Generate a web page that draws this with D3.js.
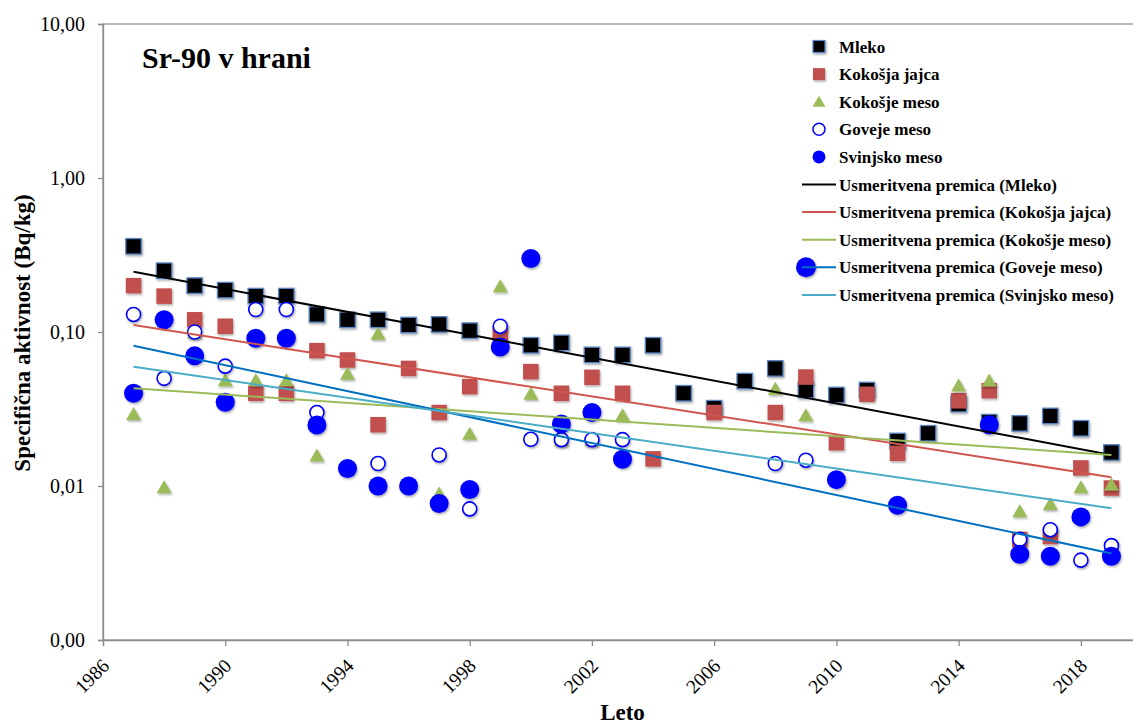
<!DOCTYPE html>
<html>
<head>
<meta charset="utf-8">
<script src="https://cdn.jsdelivr.net/npm/d3@7"></script>
<style>
  html, body { margin: 0; padding: 0; background: #fff; }
  svg { display: block; font-family: "Liberation Serif", "Times New Roman", serif; }
</style>
</head>
<body>
<svg id="chart" width="1133" height="727"></svg>
<script>
// ---------------- DATA ----------------
const seriesNames = ["Mleko", "Kokošja jajca", "Kokošje meso", "Goveje meso", "Svinjsko meso"];

const mlekoYears = [1987,1988,1989,1990,1991,1992,1993,1994,1995,1996,1997,1998,2000,2001,2002,2003,2004,2005,2006,2007,2008,2009,2010,2011,2012,2013,2014,2015,2016,2017,2018,2019];
const mlekoValues = [0.36,0.25,0.20,0.187,0.171,0.171,0.13,0.12,0.12,0.111,0.112,0.102,0.082,0.085,0.071,0.071,0.082,0.040,0.032,0.048,0.058,0.042,0.039,0.042,0.0196,0.022,0.034,0.026,0.0255,0.0285,0.0237,0.0165];

const jajcaYears = [1987,1988,1989,1990,1991,1992,1993,1994,1995,1996,1997,1998,1999,2000,2001,2002,2003,2004,2006,2008,2009,2010,2011,2012,2014,2015,2016,2017,2018,2019];
const jajcaValues = [0.20,0.171,0.12,0.109,0.040,0.040,0.0757,0.0658,0.025,0.058,0.030,0.0442,0.098,0.0553,0.040,0.0508,0.040,0.015,0.030,0.030,0.051,0.0191,0.0394,0.0163,0.0358,0.0416,0.0045,0.0047,0.0131,0.0097];

const kokosjeYears = [1987,1988,1989,1990,1991,1992,1993,1994,1995,1997,1998,1999,2000,2001,2002,2003,2008,2009,2014,2015,2016,2017,2018,2019];
const kokosjeValues = [0.0296,0.0099,0.10,0.049,0.049,0.049,0.0159,0.054,0.098,0.009,0.022,0.20,0.040,0.020,0.020,0.029,0.0431,0.029,0.0453,0.0488,0.0069,0.0077,0.0099,0.0103];

const govejeYears = [1987,1988,1989,1990,1991,1992,1993,1995,1997,1998,1999,2000,2001,2002,2003,2008,2009,2016,2017,2018,2019];
const govejeValues = [0.130,0.050,0.100,0.060,0.140,0.140,0.030,0.014,0.0159,0.0071,0.109,0.0201,0.020,0.020,0.020,0.014,0.0147,0.0045,0.0052,0.0033,0.0041];

const svinjskoYears = [1987,1988,1989,1990,1991,1992,1993,1994,1995,1996,1997,1998,1999,2000,2001,2002,2003,2010,2012,2015,2016,2017,2018,2019];
const svinjskoValues = [0.040,0.120,0.070,0.035,0.091,0.091,0.0249,0.013,0.010,0.010,0.0077,0.0095,0.080,0.30,0.0253,0.030,0.0149,0.011,0.0075,0.025,0.0036,0.0035,0.0063,0.0035];

// Trend lines (exponential fits) at first and last year
const trendYears = [1987, 2019];
const trendMleko = [0.246, 0.0159];
const trendJajca = [0.111, 0.0114];
const trendKokosje = [0.0431, 0.0159];
const trendGoveje = [0.0815, 0.00365];
const trendSvinjsko = [0.0595, 0.00716];

const yTickValues = [0.001, 0.01, 0.1, 1, 10];
const xTickValues = [1986, 1990, 1994, 1998, 2002, 2006, 2010, 2014, 2018];

const titleText = "Sr-90 v hrani";
const yTitle = "Specifična aktivnost (Bq/kg)";
const xTitle = "Leto";
const trendLabelPrefix = "Usmeritvena premica";

// ---------------- LAYOUT ----------------
const svg = d3.select("#chart");
const X0 = 103, X1 = 1142, Y0 = 640, Y1 = 24;
const x = d3.scaleLinear().domain([1986, 2020]).range([X0, X1]);
const y = d3.scaleLog().domain([0.001, 10]).range([Y0, Y1]);

const defs = svg.append("defs");
const sh = defs.append("filter").attr("id", "shadow").attr("x", "-50%").attr("y", "-50%").attr("width", "200%").attr("height", "200%");
sh.append("feDropShadow").attr("dx", 1).attr("dy", 1.5).attr("stdDeviation", 1.2).attr("flood-color", "#000").attr("flood-opacity", 0.35);

const axisColor = "#8c8c8c";

// frame (top / right border of plot area)
svg.append("rect").attr("x", X0).attr("y", Y1).attr("width", X1 - X0).attr("height", Y0 - Y1)
  .attr("fill", "none").attr("stroke", axisColor).attr("stroke-width", 1.2);

// axes
const fmt = v => d3.format(".2f")(v).replace(".", ",");
const yAxis = svg.append("g").attr("transform", `translate(${X0},0)`)
  .call(d3.axisLeft(y).tickValues(yTickValues).tickFormat(fmt).tickSize(5).tickPadding(13));
const xAxis = svg.append("g").attr("transform", `translate(0,${Y0})`)
  .call(d3.axisBottom(x).tickValues(xTickValues).tickFormat(d3.format("d")).tickSize(6));
[yAxis, xAxis].forEach(g => {
  g.selectAll("path, line").attr("stroke", axisColor).attr("stroke-width", 1.3);
  g.selectAll("text").attr("fill", "#000").attr("font-family", "Liberation Serif, serif");
});
yAxis.selectAll("text").attr("font-size", 20);
xAxis.selectAll("text")
  .attr("font-size", 19.5)
  .attr("text-anchor", "end")
  .attr("y", 0).attr("dy", 0)
  .attr("transform", "translate(7,27) rotate(-45)");

// titles
svg.append("text").attr("x", 142).attr("y", 68).attr("font-size", 30).attr("font-weight", "bold").text(titleText);
svg.append("text").attr("transform", `translate(30,333) rotate(-90)`).attr("text-anchor", "middle")
  .attr("font-size", 23).attr("font-weight", "bold").text(yTitle);
svg.append("text").attr("x", (X0 + X1) / 2).attr("y", 720).attr("text-anchor", "middle")
  .attr("font-size", 23).attr("font-weight", "bold").text(xTitle);

// ---------------- MARKERS ----------------
const zip = (ys, vs) => ys.map((yr, i) => ({ year: yr, value: vs[i] }));
const sq = 15.5;

function drawSquares(data, fill, stroke) {
  svg.append("g").selectAll("rect").data(data).join("rect")
    .attr("x", d => x(d.year) - sq / 2).attr("y", d => y(d.value) - sq / 2)
    .attr("width", sq).attr("height", sq)
    .attr("fill", fill).attr("stroke", stroke || "none").attr("stroke-width", stroke ? 1.3 : 0)
    .attr("filter", "url(#shadow)");
}
function drawTriangles(data, fill) {
  const w = 15, h = 13;
  svg.append("g").selectAll("path").data(data).join("path")
    .attr("d", d => {
      const cx = x(d.year), cy = y(d.value);
      return `M${cx},${cy - h / 2} L${cx + w / 2},${cy + h / 2} L${cx - w / 2},${cy + h / 2} Z`;
    })
    .attr("fill", fill).attr("filter", "url(#shadow)");
}
function drawCircles(data, r, fill, stroke, sw) {
  svg.append("g").selectAll("circle").data(data).join("circle")
    .attr("cx", d => x(d.year)).attr("cy", d => y(d.value)).attr("r", r)
    .attr("fill", fill).attr("stroke", stroke).attr("stroke-width", sw)
    .attr("filter", "url(#shadow)");
}

const cBlack = "#000000", cRed = "#C0504D", cGreen = "#9BBB59", cBlue = "#0000FF";
const cTrendRed = "#D0574F", cTrendBlue = "#0070C0", cTrendCyan = "#4BACC6";

drawSquares(zip(mlekoYears, mlekoValues), cBlack, "#5b86c4");
drawSquares(zip(jajcaYears, jajcaValues), cRed);
drawTriangles(zip(kokosjeYears, kokosjeValues), cGreen);
drawCircles(zip(govejeYears, govejeValues), 7, "#fff", cBlue, 1.6);
drawCircles(zip(svinjskoYears, svinjskoValues), 9.5, cBlue, "none", 0);

// ---------------- TREND LINES ----------------
const line = d3.line().x(d => x(d.year)).y(d => y(d.value));
const trends = [
  { vals: trendMleko, color: cBlack },
  { vals: trendJajca, color: cTrendRed },
  { vals: trendKokosje, color: cGreen },
  { vals: trendGoveje, color: cTrendBlue },
  { vals: trendSvinjsko, color: cTrendCyan }
];
trends.forEach(t => {
  svg.append("path").datum(zip(trendYears, t.vals)).attr("d", line)
    .attr("fill", "none").attr("stroke", t.color).attr("stroke-width", 2);
});

// ---------------- LEGEND ----------------
const lg = svg.append("g");
const lgMarkX = 819, lgTextX = 839, lgRowY0 = 46.5, lgStep = 27.6;
const legendFont = 17;
const markerKinds = [
  { kind: "sq", fill: cBlack, stroke: "#5b86c4" },
  { kind: "sq", fill: cRed },
  { kind: "tri", fill: cGreen },
  { kind: "open" },
  { kind: "filled" }
];
seriesNames.forEach((name, i) => {
  const cy = lgRowY0 + i * lgStep;
  const m = markerKinds[i];
  if (m.kind === "sq") {
    lg.append("rect").attr("x", lgMarkX - 6).attr("y", cy - 6).attr("width", 12).attr("height", 12)
      .attr("fill", m.fill).attr("stroke", m.stroke || "none").attr("stroke-width", m.stroke ? 1.2 : 0)
      .attr("filter", "url(#shadow)");
  } else if (m.kind === "tri") {
    lg.append("path").attr("d", `M${lgMarkX},${cy - 6} L${lgMarkX + 6.5},${cy + 5} L${lgMarkX - 6.5},${cy + 5} Z`)
      .attr("fill", m.fill);
  } else if (m.kind === "open") {
    lg.append("circle").attr("cx", lgMarkX).attr("cy", cy).attr("r", 6).attr("fill", "#fff")
      .attr("stroke", cBlue).attr("stroke-width", 1.5);
  } else {
    lg.append("circle").attr("cx", lgMarkX).attr("cy", cy).attr("r", 6.5).attr("fill", cBlue);
  }
  lg.append("text").attr("x", lgTextX).attr("y", cy + 6).attr("font-size", legendFont)
    .attr("font-weight", "bold").text(name);
});
seriesNames.forEach((name, i) => {
  const cy = lgRowY0 + (i + 5) * lgStep;
  if (i === 3) {
    lg.append("circle").attr("cx", 806).attr("cy", cy).attr("r", 10).attr("fill", cBlue)
      .attr("filter", "url(#shadow)");
  }
  lg.append("line").attr("x1", 802).attr("x2", 836).attr("y1", cy).attr("y2", cy)
    .attr("stroke", trends[i].color).attr("stroke-width", 2);
  lg.append("text").attr("x", lgTextX).attr("y", cy + 6).attr("font-size", legendFont)
    .attr("font-weight", "bold").text(`${trendLabelPrefix} (${name})`);
});
</script>
</body>
</html>
